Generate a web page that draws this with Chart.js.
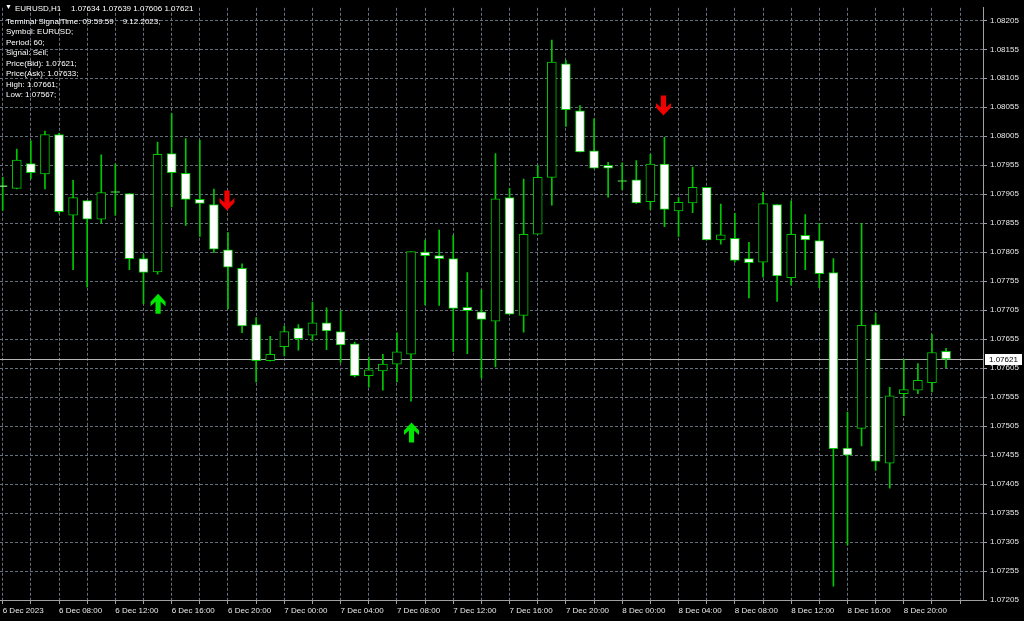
<!DOCTYPE html>
<html>
<head>
<meta charset="utf-8">
<title>EURUSD,H1</title>
<script src="https://cdn.jsdelivr.net/npm/chart.js@4.4.0/dist/chart.umd.min.js"></script>
<style>
  html, body { margin: 0; padding: 0; background: #000; }
  #wrap { position: relative; width: 1024px; height: 621px; overflow: hidden; }
  canvas { display: block; }
  .txt { position: absolute; color: #fff; font: 8px "Liberation Sans", Arial, sans-serif; white-space: pre; }
  #info { left: 6px; top: 17px; line-height: 10.45px; }
</style>
</head>
<body>
<div id="wrap">
  <canvas id="myChart" width="1024" height="621"></canvas>
  <div class="txt" style="left:5px;top:3px;font-size:7px;">▼</div>
  <div class="txt" style="left:15px;top:4px;">EURUSD,H1</div>
  <div class="txt" style="left:71px;top:4px;">1.07634 1.07639 1.07606 1.07621</div>
  <div class="txt" id="info">Terminal SignalTime: 09:59:59    9.12.2023;
Symbol: EURUSD;
Period: 60;
Signal: Sell;
Price(Bid): 1.07621;
Price(Ask): 1.07633;
High: 1.07661;
Low: 1.07567;</div>
</div>
<script>
// hourly bars, 6 Dec 04:00 .. 8 Dec 23:00
const open = [1.07918, 1.07915, 1.07958, 1.07940, 1.08008, 1.07869, 1.07894, 1.07862, 1.07908, 1.07906,
  1.07794, 1.07771, 1.07975, 1.07941, 1.07896, 1.07887, 1.07809, 1.07777, 1.07680, 1.07618,
  1.07642, 1.07674, 1.07662, 1.07683, 1.07668, 1.07647, 1.07592, 1.07600, 1.07612, 1.07629,
  1.07805, 1.07799, 1.07794, 1.07710, 1.07702, 1.07686, 1.07899, 1.07696, 1.07836, 1.07934,
  1.08130, 1.08049, 1.07980, 1.07955, 1.07927, 1.07930, 1.07892, 1.07957, 1.07876, 1.07890,
  1.07917, 1.07826, 1.07829, 1.07794, 1.07788, 1.07887, 1.07761, 1.07834, 1.07825, 1.07770,
  1.07467, 1.07501, 1.07680, 1.07441, 1.07561, 1.07567, 1.07580, 1.07634];
const high = [1.07934, 1.07983, 1.07997, 1.08014, 1.08010, 1.07929, 1.07894, 1.07973, 1.07957, 1.07906,
  1.07801, 1.07995, 1.08044, 1.08001, 1.07998, 1.07914, 1.07839, 1.07785, 1.07692, 1.07660,
  1.07677, 1.07680, 1.07719, 1.07709, 1.07704, 1.07650, 1.07624, 1.07629, 1.07666, 1.07806,
  1.07826, 1.07843, 1.07834, 1.07770, 1.07740, 1.07975, 1.07915, 1.07931, 1.07955, 1.08171,
  1.08136, 1.08058, 1.08035, 1.07960, 1.07959, 1.07963, 1.07974, 1.08003, 1.07899, 1.07952,
  1.07917, 1.07888, 1.07872, 1.07822, 1.07908, 1.07887, 1.07893, 1.07870, 1.07855, 1.07794,
  1.07529, 1.07855, 1.07700, 1.07572, 1.07620, 1.07613, 1.07663, 1.07639];
const low = [1.07877, 1.07914, 1.07932, 1.07914, 1.07872, 1.07775, 1.07745, 1.07855, 1.07869, 1.07775,
  1.07716, 1.07767, 1.07883, 1.07851, 1.07832, 1.07804, 1.07707, 1.07666, 1.07581, 1.07617,
  1.07626, 1.07636, 1.07652, 1.07637, 1.07615, 1.07590, 1.07572, 1.07567, 1.07581, 1.07548,
  1.07714, 1.07713, 1.07634, 1.07630, 1.07588, 1.07607, 1.07698, 1.07667, 1.07836, 1.07886,
  1.08022, 1.07978, 1.07950, 1.07900, 1.07913, 1.07889, 1.07879, 1.07849, 1.07832, 1.07873,
  1.07826, 1.07819, 1.07788, 1.07726, 1.07762, 1.07720, 1.07748, 1.07775, 1.07744, 1.07229,
  1.07300, 1.07471, 1.07429, 1.07398, 1.07523, 1.07561, 1.07564, 1.07606];
const close = [1.07918, 1.07964, 1.07942, 1.08008, 1.07875, 1.07899, 1.07862, 1.07908, 1.07908, 1.07794,
  1.07770, 1.07974, 1.07942, 1.07896, 1.07889, 1.07810, 1.07779, 1.07678, 1.07618, 1.07629,
  1.07668, 1.07656, 1.07683, 1.07669, 1.07645, 1.07592, 1.07602, 1.07612, 1.07633, 1.07806,
  1.07799, 1.07794, 1.07708, 1.07704, 1.07689, 1.07897, 1.07698, 1.07836, 1.07934, 1.08133,
  1.08051, 1.07978, 1.07950, 1.07950, 1.07927, 1.07890, 1.07957, 1.07879, 1.07891, 1.07917,
  1.07826, 1.07835, 1.07791, 1.07787, 1.07889, 1.07764, 1.07836, 1.07826, 1.07768, 1.07466,
  1.07455, 1.07679, 1.07444, 1.07557, 1.07568, 1.07584, 1.07632, 1.07621];

// signal arrows (bar index, price)
const upArrowBar = [11, 29];
const upArrowPrice = [1.07716, 1.07494];
const downArrowBar = [16, 47];
const downArrowPrice = [1.07894, 1.08058];

const bid = 1.07621;

// axis labels
const timeLabels = ["6 Dec 2023", "6 Dec 08:00", "6 Dec 12:00", "6 Dec 16:00", "6 Dec 20:00",
  "7 Dec 00:00", "7 Dec 04:00", "7 Dec 08:00", "7 Dec 12:00", "7 Dec 16:00", "7 Dec 20:00",
  "8 Dec 00:00", "8 Dec 04:00", "8 Dec 08:00", "8 Dec 12:00", "8 Dec 16:00", "8 Dec 20:00"];
const priceTicks = [1.07205, 1.07255, 1.07305, 1.07355, 1.07405, 1.07455, 1.07505, 1.07555, 1.07605,
  1.07655, 1.07705, 1.07755, 1.07805, 1.07855, 1.07905, 1.07955, 1.08005, 1.08055, 1.08105,
  1.08155, 1.08205];

const candleGreen = "#00c800";
const gridColor = "#66707c";
const axisColor = "#a0a0a0";
const textColor = "#e8e8e8";

Chart.defaults.font.family = '"Liberation Sans", Arial, sans-serif';
Chart.defaults.font.size = 8;

const bodies = open.map((o, i) => ({ x: i, y: [o, close[i]] }));
const wicks = low.map((l, i) => ({ x: i, y: [l, high[i]] }));
const bodyFill = open.map((o, i) => (close[i] > o ? "#000000" : "#ffffff"));

// thick wingdings-like arrow, dir = -1 points up, 1 points down
function drawArrow(ctx, cx, cy, dir, color) {
  const half = 10, hw = 7.5, sw = 2.6;
  const tip = cy + dir * half, tail = cy - dir * half;
  const p = (dx, dy) => [cx + dx, tip - dir * dy];
  const pts = [p(0, 0), p(hw, 8), p(hw, 12.5), p(sw, 8), p(sw, 20), p(-sw, 20), p(-sw, 8), p(-hw, 12.5), p(-hw, 8)];
  ctx.save();
  ctx.fillStyle = color;
  ctx.beginPath();
  pts.forEach(([x, y], k) => (k ? ctx.lineTo(x, y) : ctx.moveTo(x, y)));
  ctx.closePath();
  ctx.fill();
  ctx.restore();
}

const mtOverlay = {
  id: "mtOverlay",
  beforeDatasetsDraw(chart) {
    const { ctx, chartArea, scales } = chart;
    const y = Math.round(scales.y.getPixelForValue(bid)) + 0.5;
    ctx.save();
    ctx.strokeStyle = "#b4b4b4";
    ctx.lineWidth = 1;
    ctx.beginPath();
    ctx.moveTo(chartArea.left, y);
    ctx.lineTo(chartArea.right, y);
    ctx.stroke();
    ctx.restore();
  },
  afterDatasetsDraw(chart) {
    const { ctx, scales } = chart;
    upArrowBar.forEach((b, k) => {
      drawArrow(ctx, scales.x.getPixelForValue(b) + 0.5, scales.y.getPixelForValue(upArrowPrice[k]), -1, "#00e600");
    });
    downArrowBar.forEach((b, k) => {
      drawArrow(ctx, scales.x.getPixelForValue(b) - 1, scales.y.getPixelForValue(downArrowPrice[k]), 1, "#f00000");
    });
  },
  afterDraw(chart) {
    const { ctx, chartArea, scales } = chart;
    const y = scales.y.getPixelForValue(bid);
    ctx.save();
    ctx.fillStyle = "#ffffff";
    ctx.fillRect(chartArea.right + 2, Math.round(y) - 5, 37, 11);
    ctx.fillStyle = "#000000";
    ctx.font = '8px "Liberation Sans", Arial, sans-serif';
    ctx.textBaseline = "middle";
    ctx.fillText(bid.toFixed(5), chartArea.right + 6, Math.round(y) + 0.5);
    ctx.restore();
  }
};

new Chart(document.getElementById("myChart"), {
  type: "bar",
  data: {
    datasets: [
      {
        label: "body",
        data: bodies,
        backgroundColor: bodyFill,
        borderColor: candleGreen,
        borderWidth: 1,
        borderSkipped: false,
        barThickness: 9,
        minBarLength: 1,
        grouped: false
      },
      {
        label: "wick",
        data: wicks,
        backgroundColor: candleGreen,
        borderWidth: 0,
        barThickness: 1,
        grouped: false
      }
    ]
  },
  options: {
    responsive: false,
    animation: false,
    devicePixelRatio: 1,
    layout: { padding: 0 },
    plugins: { legend: { display: false }, tooltip: { enabled: false } },
    scales: {
      x: {
        type: "linear",
        position: "bottom",
        min: -0.1918,
        max: 69.624,
        offset: false,
        afterBuildTicks: (scale) => {
          const t = [];
          for (let i = 0; i <= 68; i += 2) t.push({ value: i });
          scale.ticks = t;
        },
        afterFit: (scale) => { scale.height = 21; },
        grid: { offset: false, color: gridColor, lineWidth: 1, drawTicks: true, tickLength: 4, tickColor: axisColor },
        border: { display: true, color: axisColor, width: 1, dash: [3, 2] },
        ticks: {
          color: textColor,
          align: "start",
          autoSkip: false,
          maxRotation: 0,
          padding: 2,
          callback: (v) => (v % 4 === 0 ? (timeLabels[v / 4] || "") : "")
        }
      },
      y: {
        type: "linear",
        position: "right",
        min: 1.07205,
        max: 1.082266,
        afterBuildTicks: (scale) => {
          scale.ticks = priceTicks.map((v) => ({ value: v }));
        },
        afterFit: (scale) => { scale.width = 41; },
        grid: { color: gridColor, lineWidth: 1, drawTicks: true, tickLength: 4, tickColor: axisColor },
        border: { display: true, color: axisColor, width: 1, dash: [3, 2] },
        ticks: {
          color: textColor,
          padding: 3,
          callback: (v) => Number(v).toFixed(5)
        }
      }
    }
  },
  plugins: [mtOverlay]
});
</script>
</body>
</html>
